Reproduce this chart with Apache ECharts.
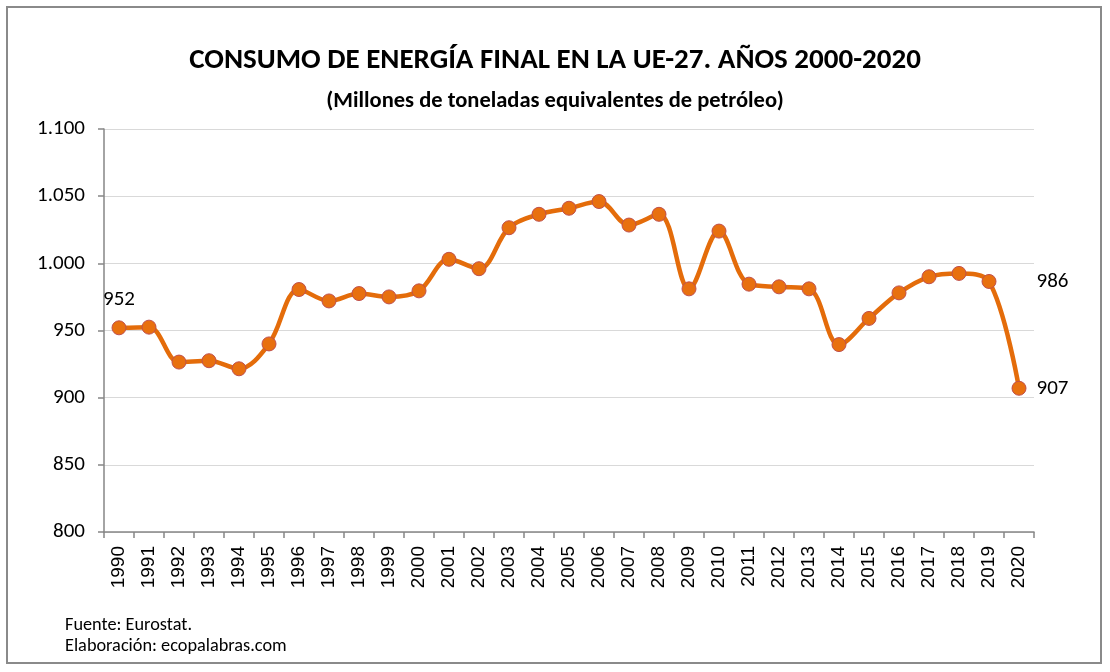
<!DOCTYPE html>
<html>
<head>
<meta charset="utf-8">
<script src="https://cdn.jsdelivr.net/npm/echarts@6/dist/echarts.min.js"></script>
<style>
html,body{margin:0;padding:0;background:#fff;}
#chart{width:1110px;height:672px;}
</style>
</head>
<body>
<div id="chart"></div>
<script>
const years = ['1990','1991','1992','1993','1994','1995','1996','1997','1998','1999','2000','2001','2002','2003','2004','2005','2006','2007','2008','2009','2010','2011','2012','2013','2014','2015','2016','2017','2018','2019','2020'];
const consumption = [952,952.5,926.5,927.5,921.5,940,980.5,972,977.5,975,979.5,1003,996,1026.5,1036.5,1041,1046,1028.5,1036.5,981,1024,984.5,982.5,981,939.5,959,978,990,992.5,986.5,907];
const labelledYears = {'1990':'952','2019':'986','2020':'907'};
const titleText = 'CONSUMO DE ENERGÍA FINAL EN LA UE-27. AÑOS 2000-2020';
const subtitleText = '(Millones de toneladas equivalentes de petróleo)';
const sourceText = 'Fuente: Eurostat.';
const creditText = 'Elaboración: ecopalabras.com';

const font = 'Carlito, Lato, "Open Sans", sans-serif';
const chart = echarts.init(document.getElementById('chart'));
chart.setOption({
  backgroundColor: '#fff',
  animation: false,
  title: [
    {text: titleText, left: 'center', top: 41, textStyle: {fontFamily: font, fontSize: 29, fontWeight: 'bold', color: '#000'}},
    {text: subtitleText, left: 'center', top: 85, textStyle: {fontFamily: font, fontSize: 22.5, fontWeight: 'bold', color: '#000'}}
  ],
  graphic: [
    {type: 'rect', shape: {x: 7, y: 7, width: 1094, height: 656}, style: {fill: 'none', stroke: '#8a8a8a', lineWidth: 2}, silent: true},
    {type: 'text', left: 65, top: 616, style: {text: sourceText, font: '18.3px ' + font, fill: '#000'}},
    {type: 'text', left: 65, top: 637, style: {text: creditText, font: '18.3px ' + font, fill: '#000'}}
  ],
  grid: {left: 104, right: 76, top: 129, bottom: 140},
  xAxis: {
    type: 'category',
    data: years,
    boundaryGap: true,
    axisLine: {lineStyle: {color: '#868686', width: 1.5}},
    axisTick: {show: true, alignWithLabel: false, length: 6, lineStyle: {color: '#868686', width: 1.5}},
    axisLabel: {rotate: 90, interval: 0, fontFamily: '"Liberation Sans", Arial, sans-serif', fontSize: 19, color: '#000', margin: 14}
  },
  yAxis: {
    type: 'value',
    min: 800, max: 1100, interval: 50,
    axisLine: {show: true, lineStyle: {color: '#868686', width: 1.5}},
    axisTick: {show: true, length: 6, lineStyle: {color: '#868686', width: 1.5}},
    splitLine: {lineStyle: {color: '#d9d9d9', width: 1}},
    axisLabel: {fontFamily: font, fontSize: 21, color: '#000', margin: 19,
      formatter: v => v >= 1000 ? String(v).replace(/^(\d)(\d{3})$/, '$1.$2') : String(v)}
  },
  series: [{
    type: 'line',
    data: years.map((y, i) => ({
      value: consumption[i],
      label: labelledYears[y] ? {
        show: true,
        formatter: labelledYears[y],
        position: y === '1990' ? 'top' : 'right',
        distance: y === '1990' ? 10 : (y === '2019' ? 40 : 10),
        fontFamily: font, fontSize: 21, color: '#000'
      } : {show: false}
    })),
    smooth: 0.35,
    symbol: 'circle',
    symbolSize: 14,
    lineStyle: {color: '#E46C0A', width: 4.5},
    itemStyle: {color: '#E8700F', borderColor: '#C0504D', borderWidth: 1}
  }]
});
</script>
</body>
</html>
